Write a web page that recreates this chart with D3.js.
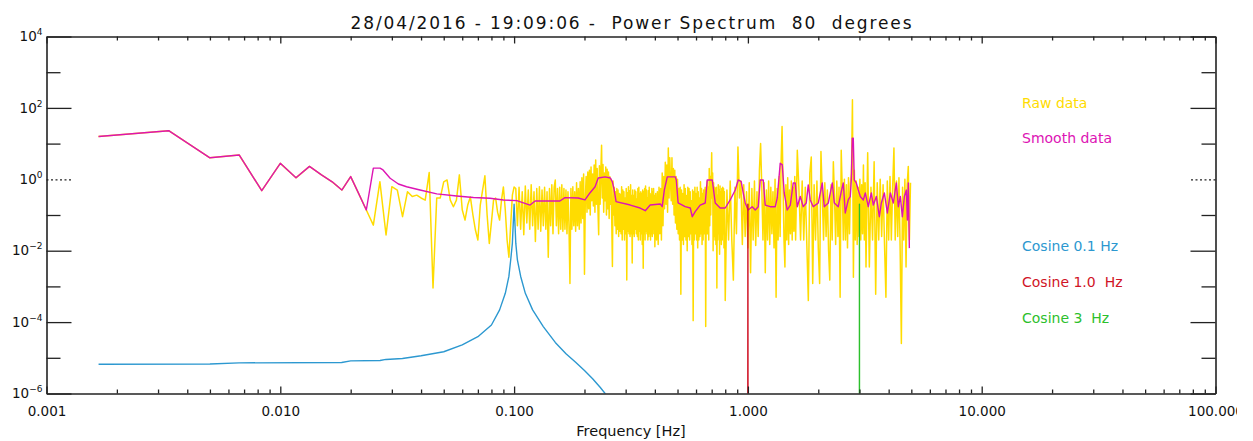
<!DOCTYPE html>
<html>
<head>
<meta charset="utf-8">
<script src="https://cdn.jsdelivr.net/npm/d3@7"></script>
<style>
  body { margin: 0; background: #fff; }
  svg { display: block; }
  text { font-family: "DejaVu Sans", "Noto Sans", sans-serif; white-space: pre; }
</style>
</head>
<body>
<svg id="chart" width="1253" height="441"></svg>
<script>
// ---------------------------------------------------------------------------
// Power spectrum, 28/04/2016 19:09:06, 80 degrees
// FFT bin width: 1/600 Hz (10 minutes of data sampled at 10 Hz, Nyquist 5 Hz)
// ---------------------------------------------------------------------------
const DF = 1 / 600;

// Raw power, listed per band of FFT bins (first bin, bin stride, powers)
const rawBandA = [ // bins 1..60
  15.8, 23, 4.0, 4.8, 0.48, 2.8, 1.1, 2.3, 1.33, 0.85,
  0.50, 1.19, 0.39, 0.138, 0.052, 0.86, 0.0275, 0.62, 0.50, 0.09,
  0.45, 0.33, 0.36, 0.30, 0.26, 1.54, 0.0009, 0.30, 0.30, 0.85,
  0.96, 0.26, 0.17, 0.26, 1.33, 0.14, 0.072, 0.19, 0.32, 0.10,
  0.038, 0.02, 0.19, 0.50, 1.25, 0.10, 0.016, 0.063, 0.26, 0.30,
  0.12, 0.072, 0.26, 0.61, 0.14, 0.02, 0.0066, 0.052, 0.36, 0.61];
const rawBandB = [ // bins 61..120
  0.55, 0.05, 0.60, 0.04, 0.45, 0.028, 0.65, 0.06, 0.50, 0.04,
  0.70, 0.05, 0.45, 0.018, 0.55, 0.04, 0.62, 0.035, 0.50, 0.05,
  0.60, 0.04, 0.45, 0.0066, 0.55, 0.05, 0.70, 0.03, 0.60, 0.95,
  0.05, 0.55, 0.03, 0.60, 0.04, 0.70, 0.035, 0.55, 0.04, 0.50,
  0.03, 0.45, 0.05, 0.0012, 0.55, 0.04, 0.62, 0.05, 0.45, 0.035,
  0.80, 0.05, 0.55, 0.04, 0.85, 0.06, 1.1, 0.08, 1.4, 0.0022];
const rawBandC = [ // bins 121..240
  0.30, 1.2, 0.12, 1.6, 0.15, 1.8, 0.10, 2.2, 0.25, 1.4,
  0.18, 2.5, 0.12, 3.5, 0.20, 2.0, 0.15, 0.028, 2.4, 0.20,
  1.8, 9.0, 0.30, 2.6, 0.12, 1.5, 0.25, 2.2, 0.10, 1.9,
  0.15, 1.6, 0.08, 1.2, 0.20, 1.0, 0.06, 0.0036, 0.9, 0.10,
  0.6, 0.05, 0.45, 0.03, 0.55, 0.04, 0.50, 0.025, 0.40, 0.035,
  0.38, 0.03, 0.62, 0.02, 0.50, 0.04, 0.45, 0.02, 0.30, 0.03,
  0.55, 0.0015, 0.42, 0.035, 0.62, 0.03, 0.48, 0.025, 0.70, 0.03,
  0.35, 0.0045, 0.50, 0.03, 0.35, 0.025, 0.50, 0.04, 0.45, 0.03,
  0.28, 0.025, 0.55, 0.02, 0.60, 0.035, 0.40, 0.02, 0.45, 0.03,
  0.40, 0.015, 0.50, 0.0032, 0.45, 0.03, 0.55, 0.02, 0.65, 0.035,
  0.50, 0.03, 0.30, 0.02, 0.48, 0.025, 0.60, 0.03, 0.40, 0.02,
  0.35, 0.03, 0.55, 0.025, 0.45, 0.03, 0.55, 0.04, 0.35, 0.013];
const rawBandD = [ // bins 242..480, every 2nd bin
  0.40, 0.02, 0.45, 0.015, 0.60, 0.03, 0.55, 0.02, 1.5, 0.05,
  1.2, 0.15, 3.0, 0.20, 2.5, 0.12, 7.5, 0.30, 4.0, 0.8,
  0.25, 4.0, 0.20, 2.0, 0.10, 1.8, 0.06, 1.2, 0.04, 1.0,
  0.03, 0.55, 0.02, 0.60, 0.0006, 0.50, 0.02, 0.40, 0.015, 0.70,
  0.025, 0.55, 0.02, 0.35, 0.01, 0.60, 0.025, 0.55, 0.02, 0.45,
  0.03, 0.25, 0.015, 0.50, 0.00011, 0.45, 0.02, 0.60, 0.03, 0.40,
  0.02, 0.60, 0.012, 0.45, 0.02, 0.30, 0.025, 0.85, 0.03, 0.55,
  0.015, 0.40, 0.02, 0.50, 0.03, 0.45, 0.60, 0.000075, 0.50, 0.03,
  0.9, 0.03, 0.6, 0.02, 2.0, 0.05, 1.2, 0.10, 1.0, 5.5,
  0.3, 1.5, 0.01, 0.80, 0.025, 0.60, 0.02, 0.55, 0.015, 0.60,
  0.0009, 0.35, 0.02, 0.70, 0.03, 0.50, 0.008, 0.65, 0.02, 0.45,
  0.015, 0.55, 0.02, 0.60, 0.03, 0.55, 0.012, 0.45, 0.02, 0.0004];
const rawBandE = [ // bins 488..960, every 8th bin
  0.5, 0.02, 0.9, 0.02, 0.0015, 0.6, 0.03, 8.0, 0.3, 0.9,
  0.015, 0.7, 0.025, 0.45, 0.012, 0.8, 0.0024, 0.55, 0.02, 0.9,
  0.014, 0.45, 0.025, 1.8, 10, 0.6, 0.02, 0.8, 0.0024, 0.5,
  0.02, 0.9, 0.015, 0.6, 0.03, 0.45, 0.012, 1.0, 0.0005, 0.55,
  0.02, 1.2, 0.025, 3.0, 30, 0.8, 0.02, 0.0035, 0.7, 0.02,
  1.1, 0.015, 0.5, 0.03, 0.9, 0.02, 0.6, 0.035, 1.2, 0.02];
const rawBandF = [ // bins 976..1920, every 16th bin
  6.5, 0.5, 0.02, 0.9, 0.02, 0.6, 0.015, 0.0004, 1.5, 4.2,
  0.0012, 0.7, 0.02, 0.9, 0.012, 0.0012, 6.0, 0.4, 0.02, 0.8,
  0.025, 0.5, 0.01, 0.0015, 0.7, 0.02, 3.1, 0.3, 0.015, 0.9,
  0.025, 0.6, 0.0005, 6.5, 0.5, 0.02, 1.0, 0.02, 0.7, 0.012,
  1.1, 0.03, 0.8, 1.5, 170, 0.0018, 1.8, 0.02, 0.9, 0.015,
  0.6, 0.025, 1.0, 0.02, 0.7, 0.03, 2.5, 0.02, 0.8, 0.0035];
const rawBandG = [ // bins 1952..2976, every 32nd bin
  5.5, 0.0035, 0.6, 0.02, 3.1, 0.0006, 0.8, 0.02, 1.0, 0.025,
  0.7, 0.015, 0.0005, 0.9, 0.02, 1.2, 0.02, 0.6, 7.5, 0.02,
  0.9, 0.025, 1.1, 0.01, 0.000025, 0.6, 0.02, 1.0, 0.0035, 0.7,
  2.3, 0.02, 0.8];

// Smoothed spectrum, [frequency Hz, power]
const smoothLow = [
  [0.00167, 15.8], [0.00333, 23], [0.005, 4.0], [0.00667, 4.8], [0.00833, 0.48],
  [0.01, 2.8], [0.01167, 1.1], [0.01333, 2.3], [0.015, 1.33], [0.01667, 0.85],
  [0.01833, 0.50], [0.02, 1.19], [0.02167, 0.39], [0.02333, 0.138], [0.025, 2.05],
  [0.0267, 2.05], [0.0275, 1.83], [0.0295, 1.07], [0.032, 0.74], [0.0347, 0.62],
  [0.0396, 0.50], [0.0467, 0.39], [0.0568, 0.34], [0.067, 0.31], [0.0789, 0.295],
  [0.09, 0.264], [0.1027, 0.253]];
const smoothMid = [
  [0.117, 0.19], [0.123, 0.247], [0.157, 0.247], [0.165, 0.306], [0.188, 0.30],
  [0.201, 0.264], [0.211, 0.415], [0.222, 0.62], [0.229, 1.09], [0.245, 1.17],
  [0.258, 1.09], [0.263, 0.86], [0.268, 0.50], [0.273, 0.236], [0.314, 0.19],
  [0.346, 0.157], [0.364, 0.132], [0.382, 0.19], [0.422, 0.204], [0.430, 0.171],
  [0.439, 0.50], [0.452, 1.17], [0.489, 1.17], [0.494, 0.96], [0.503, 0.217],
  [0.539, 0.171], [0.567, 0.157], [0.578, 0.0895], [0.595, 0.124], [0.625, 0.19],
  [0.657, 0.217], [0.670, 0.96], [0.704, 0.96], [0.725, 0.217], [0.761, 0.157],
  [0.800, 0.157], [0.840, 0.264], [0.883, 0.50], [0.909, 0.96], [0.936, 0.86],
  [0.955, 0.415], [0.974, 0.217]];
const smoothHigh = [
  [1.003, 0.138], [1.043, 0.171], [1.075, 0.138], [1.107, 0.171], [1.129, 0.96],
  [1.163, 0.96], [1.186, 0.19], [1.246, 0.171], [1.309, 0.171], [1.335, 0.30],
  [1.375, 2.83], [1.403, 2.54], [1.430, 0.415], [1.473, 0.138], [1.518, 0.19],
  [1.563, 0.79], [1.594, 0.79], [1.626, 0.171], [1.675, 0.33], [1.725, 0.171],
  [1.777, 0.217], [1.812, 0.70], [1.848, 0.264], [1.903, 0.171], [2.000, 0.217],
  [2.080, 0.79], [2.121, 0.171], [2.207, 0.217], [2.296, 0.79], [2.342, 0.217],
  [2.435, 0.171], [2.508, 0.45], [2.558, 0.79], [2.609, 0.114], [2.687, 0.264],
  [2.741, 0.33], [2.768, 0.96], [2.795, 14.2], [2.823, 14.2], [2.851, 0.96],
  [2.908, 0.79], [2.966, 0.50], [3.025, 0.33], [3.116, 0.264], [3.178, 0.415],
  [3.273, 0.171], [3.372, 0.415], [3.439, 0.19], [3.543, 0.33], [3.649, 0.0895],
  [3.722, 0.217], [3.833, 0.415], [3.949, 0.114], [4.067, 0.415], [4.188, 0.217],
  [4.314, 0.79], [4.400, 0.171], [4.487, 0.33], [4.577, 0.0895], [4.669, 0.33],
  [4.762, 0.50], [4.809, 0.072], [4.856, 0.79], [4.904, 0.0118]];

// Spectra of the test cosines, [frequency Hz, power]
const cosine01 = [
  [0.00167, 6.6e-6], [0.005, 6.7e-6], [0.00667, 7.2e-6], [0.0183, 7.4e-6], [0.02, 8.2e-6],
  [0.0267, 8.4e-6], [0.0283, 9.0e-6], [0.0333, 9.6e-6], [0.04, 1.14e-5], [0.05, 1.48e-5],
  [0.06, 2.3e-5], [0.07, 3.9e-5], [0.08, 8.3e-5], [0.0867, 2.2e-4], [0.0917, 6.4e-4],
  [0.095, 1.9e-3], [0.0967, 5.5e-3], [0.0983, 0.016], [0.1, 0.2], [0.1017, 0.016],
  [0.1033, 5.5e-3], [0.1067, 1.9e-3], [0.1117, 6.4e-4], [0.12, 2.2e-4], [0.1333, 7.5e-5],
  [0.15, 2.7e-5], [0.1667, 1.3e-5], [0.1833, 7.5e-6], [0.2, 4.4e-6], [0.2167, 2.6e-6],
  [0.2333, 1.5e-6], [0.25, 8.5e-7], [0.2667, 5e-7]];
const cosine10 = [[0.99833, 1e-9], [1.0, 0.2], [1.00167, 1e-9]];
const cosine30 = [[2.99833, 1e-9], [3.0, 0.2], [3.00167, 1e-9]];

// Axes
const xMajorTicks = [1e-3, 1e-2, 1e-1, 1, 10, 100];
const xTickLabels = ["0.001", "0.010", "0.100", "1.000", "10.000", "100.000"];
const yMajorTicks = [1e4, 1e2, 1, 1e-2, 1e-4, 1e-6];
const yTickExponents = ["4", "2", "0", "\u22122", "\u22124", "\u22126"];
const yMinorTicks = [1e3, 1e1, 1e-1, 1e-3, 1e-5];

const titleText = "28/04/2016 - 19:09:06 -  Power Spectrum  80  degrees";
const xTitle = "Frequency [Hz]";
const legendLabels = ["Raw data", "Smooth data", "Cosine 0.1 Hz", "Cosine 1.0  Hz", "Cosine 3  Hz"];

const COLORS = {
  raw: "#ffdc00", smooth: "#dd14b4", cos01: "#2c98d0",
  cos10: "#d01426", cos30: "#2cc02c", axis: "#222"
};
const legendColors = [COLORS.raw, COLORS.smooth, COLORS.cos01, COLORS.cos10, COLORS.cos30];

// ---------------------------------------------------------------------------
const rawBands = [
  [1, 1, rawBandA], [61, 1, rawBandB], [121, 1, rawBandC], [242, 2, rawBandD],
  [488, 8, rawBandE], [976, 16, rawBandF], [1952, 32, rawBandG]];
const rawSpectrum = rawBands.flatMap(([first, stride, powers]) =>
  powers.map((p, i) => [(first + i * stride) * DF, p]));
const smoothSpectrum = smoothLow.concat(smoothMid, smoothHigh);

const svg = d3.select("#chart");
const M = { left: 46.5, right: 1215.5, top: 36.5, bottom: 393.5 };

const x = d3.scaleLog().domain([1e-3, 1e2]).range([M.left, M.right]);
const y = d3.scaleLog().domain([1e-6, 1e4]).range([M.bottom, M.top]);

const defs = svg.append("defs");
defs.append("clipPath").attr("id", "plot-area").append("rect")
  .attr("x", M.left).attr("y", M.top)
  .attr("width", M.right - M.left).attr("height", M.bottom - M.top);
defs.append("clipPath").attr("id", "label-area").append("rect")
  .attr("x", 0).attr("y", 0).attr("width", 1237).attr("height", 441);

const line = d3.line().x(d => x(d[0])).y(d => y(d[1]));

const plot = svg.append("g").attr("clip-path", "url(#plot-area)");
function drawSeries(data, color, width) {
  plot.append("path").datum(data)
    .attr("d", line)
    .attr("fill", "none")
    .attr("stroke", color)
    .attr("stroke-width", width)
    .attr("stroke-linejoin", "round");
}
drawSeries(rawSpectrum, COLORS.raw, 1.5);
drawSeries(smoothSpectrum, COLORS.smooth, 1.4);
drawSeries(cosine01, COLORS.cos01, 1.4);
drawSeries(cosine10, COLORS.cos10, 1.4);
drawSeries(cosine30, COLORS.cos30, 1.4);

// --- axes ------------------------------------------------------------------
const xMinorTicks = d3.range(-3, 2).flatMap(e => d3.range(2, 10).map(m => m * Math.pow(10, e)));

function styleAxis(g, keepDomain) {
  g.selectAll("line").attr("stroke", COLORS.axis).attr("stroke-width", 1.3);
  if (keepDomain) g.select(".domain").attr("stroke", COLORS.axis).attr("stroke-width", 1.6);
  else g.select(".domain").remove();
}

// bottom
const bottomWrap = svg.append("g").attr("clip-path", "url(#label-area)");
bottomWrap.append("g").attr("transform", `translate(0,${M.bottom})`)
  .call(d3.axisBottom(x).tickValues(xMinorTicks).tickFormat("").tickSizeInner(-4).tickSizeOuter(0))
  .call(g => styleAxis(g, false));
bottomWrap.append("g").attr("transform", `translate(0,${M.bottom})`)
  .call(d3.axisBottom(x).tickValues(xMajorTicks).tickFormat((d, i) => xTickLabels[i])
    .tickSizeInner(-7).tickSizeOuter(0).tickPadding(13))
  .call(g => styleAxis(g, true))
  .call(g => g.selectAll("text").attr("fill", "#111").attr("font-size", 13.5)
    .attr("font-family", "DejaVu Sans, sans-serif"));

// top
svg.append("g").attr("transform", `translate(0,${M.top})`)
  .call(d3.axisTop(x).tickValues(xMinorTicks).tickFormat("").tickSizeInner(-4).tickSizeOuter(0))
  .call(g => styleAxis(g, false));
svg.append("g").attr("transform", `translate(0,${M.top})`)
  .call(d3.axisTop(x).tickValues(xMajorTicks).tickFormat("").tickSizeInner(-7).tickSizeOuter(0))
  .call(g => styleAxis(g, true));

// left
svg.append("g").attr("transform", `translate(${M.left},0)`)
  .call(d3.axisLeft(y).tickValues(yMinorTicks).tickFormat("").tickSizeInner(-14).tickSizeOuter(0))
  .call(g => styleAxis(g, false));
const leftAxis = svg.append("g").attr("transform", `translate(${M.left},0)`)
  .call(d3.axisLeft(y).tickValues(yMajorTicks).tickFormat("").tickSizeInner(-25).tickSizeOuter(0))
  .call(g => styleAxis(g, true));

// right
svg.append("g").attr("transform", `translate(${M.right},0)`)
  .call(d3.axisRight(y).tickValues(yMinorTicks).tickFormat("").tickSizeInner(-14).tickSizeOuter(0))
  .call(g => styleAxis(g, false));
const rightAxis = svg.append("g").attr("transform", `translate(${M.right},0)`)
  .call(d3.axisRight(y).tickValues(yMajorTicks).tickFormat("").tickSizeInner(-25).tickSizeOuter(0))
  .call(g => styleAxis(g, true));

// the 10^0 reference ticks are dotted
[leftAxis, rightAxis].forEach(ax =>
  ax.selectAll(".tick").filter(d => d === 1).select("line")
    .attr("stroke-dasharray", "2,2.5"));

// y tick labels as powers of ten
leftAxis.selectAll(".tick text").remove();
const yLabels = svg.append("g");
yMajorTicks.forEach((v, i) => {
  const t = yLabels.append("text")
    .attr("x", M.left - 4).attr("y", y(v)).attr("dy", "0.35em")
    .attr("text-anchor", "end").attr("fill", "#111").attr("font-size", 13.5);
  t.append("tspan").text("10");
  t.append("tspan").attr("dy", -6).attr("font-size", 9).text(yTickExponents[i]);
});

// --- titles and legend ----------------------------------------------------
svg.append("text")
  .attr("x", (M.left + M.right) / 2).attr("y", 29)
  .attr("text-anchor", "middle").attr("font-size", 17).attr("fill", "#111")
  .attr("textLength", 561).attr("lengthAdjust", "spacing")
  .text(titleText);

svg.append("text")
  .attr("x", (M.left + M.right) / 2).attr("y", 436)
  .attr("text-anchor", "middle").attr("font-size", 14.5).attr("fill", "#111")
  .text(xTitle);

const legendBaselines = [108, 143, 251, 287, 323];
svg.append("g").selectAll("text").data(legendLabels).join("text")
  .attr("x", 1022).attr("y", (d, i) => legendBaselines[i])
  .attr("font-size", 14).attr("fill", (d, i) => legendColors[i])
  .text(d => d);
</script>
</body>
</html>
